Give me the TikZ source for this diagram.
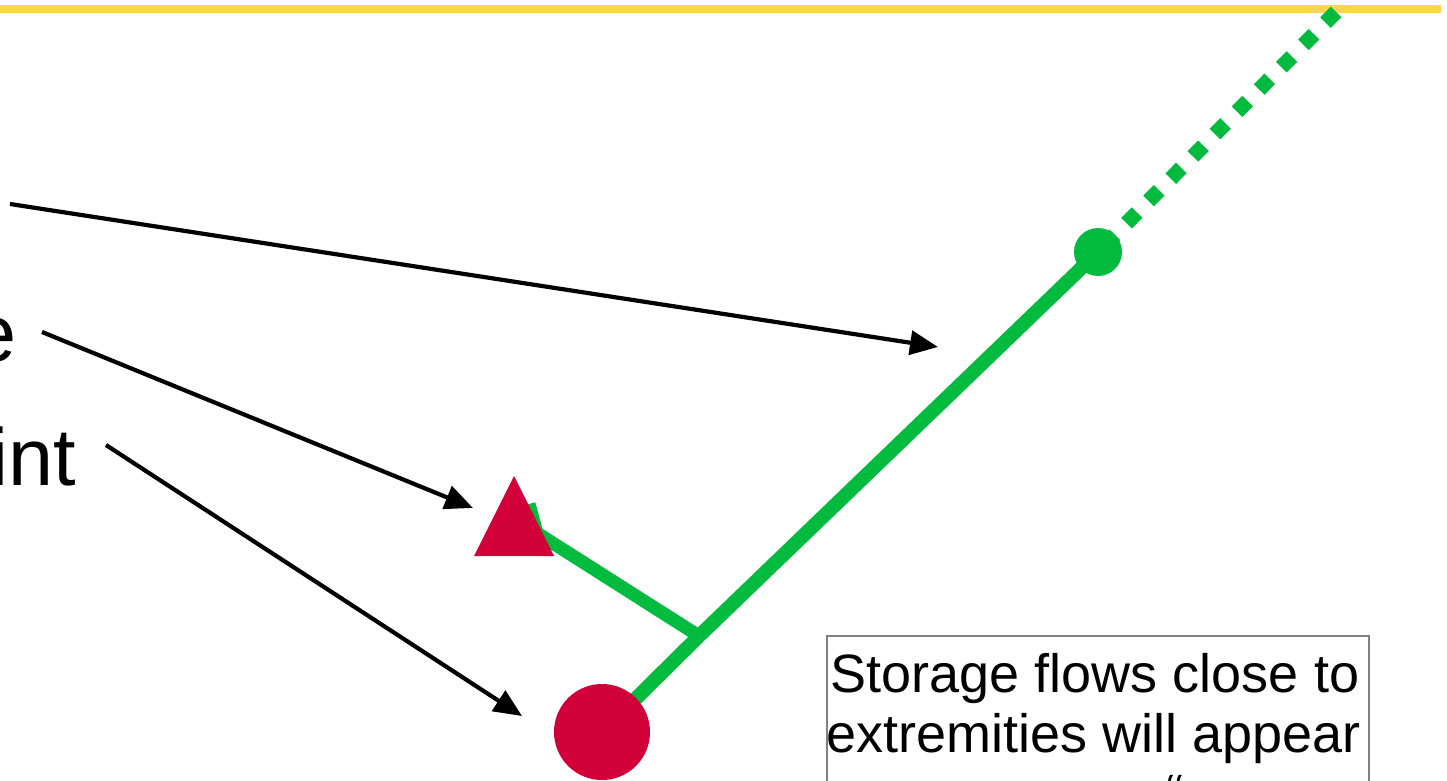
\documentclass[tikz,border=0pt]{standalone}
\usepackage{fontspec}
\setmainfont{Liberation Sans}
\usetikzlibrary{arrows.meta}
\definecolor{railyellow}{RGB}{255,212,82}
\definecolor{flowgreen}{RGB}{0,187,62}
\definecolor{nodered}{RGB}{210,0,56}
\definecolor{boxgray}{RGB}{128,128,128}
\tikzset{
  pointer/.style={line width=4.2pt, -{Triangle[length=28pt,width=24pt]}},
  flow/.style={flowgreen, line width=14pt},
  branch/.style={flowgreen, line width=13pt},
  ghost/.style={flowgreen, line width=15pt, dash pattern=on 15pt off 16.4pt, dash phase=22.3pt},
  bigtext/.style={font=\fontsize{81}{95}\selectfont, inner sep=0pt, anchor=base east},
  notetext/.style={font=\fontsize{54}{60}\selectfont, inner sep=0pt},
  dot/.style={circle, inner sep=0pt}
}
\begin{document}
\begin{tikzpicture}[x=1pt,y=-1pt]
\useasboundingbox (0,0) rectangle (1447,781);
\clip (0,0) rectangle (1447,781);

% rail along the top
\coordinate (railL) at (0,9);
\coordinate (railR) at (1441,9);
\draw[railyellow, line width=8pt] (railL) -- (railR);

% key points of the network
\coordinate (junc) at (699,636);
\coordinate (bend) at (537,533);
\coordinate (tail) at (529,504);
\coordinate (ghostend) at (1338,10);
\coordinate (gcent) at (1098,252);
\coordinate (rcent) at (602,732);

% flows
\draw[ghost] (gcent) -- (ghostend);
\draw[flow] (rcent) -- (junc);
\draw[flow] (junc) -- (gcent);
\draw[branch] (tail) -- (bend) -- (junc);

% nodes
\node[dot, fill=flowgreen, minimum size=48pt] (gdot) at (gcent) {};
\node[dot, fill=nodered, minimum size=96pt] (rdot) at (rcent) {};
\coordinate (triA) at (514,476);
\coordinate (triL) at (474,556);
\coordinate (triR) at (554,556);
\fill[nodered] (triL) -- (triA) -- (triR) -- cycle;

% labels on the left
\node[bigtext] (lblE) at (16.5,361) {e};
\node[bigtext] (lblInt) at (76.5,485) {int};

% pointers
\coordinate (p1s) at (10,204);  \coordinate (p1e) at (938,347);
\coordinate (p2s) at (42,332);  \coordinate (p2e) at (473,508);
\coordinate (p3s) at (106,445); \coordinate (p3e) at (522,716);
\draw[pointer] (p1s) -- (p1e);
\draw[pointer] (p2s) -- (p2e);
\draw[pointer] (p3s) -- (p3e);

% note box
\node[draw=boxgray, line width=1.5pt, minimum width=542pt, minimum height=200pt,
      anchor=north west, inner sep=0pt] (note) at (826,635) {};
\node[notetext, anchor=base] (noteA) at (1095,692) {Storage flows close to};
\node[notetext, anchor=base] (noteB) at (1094,752) {extremities will appear};
\node[notetext, anchor=base west] (noteC) at (1166,812) {“};
\end{tikzpicture}
\end{document}
